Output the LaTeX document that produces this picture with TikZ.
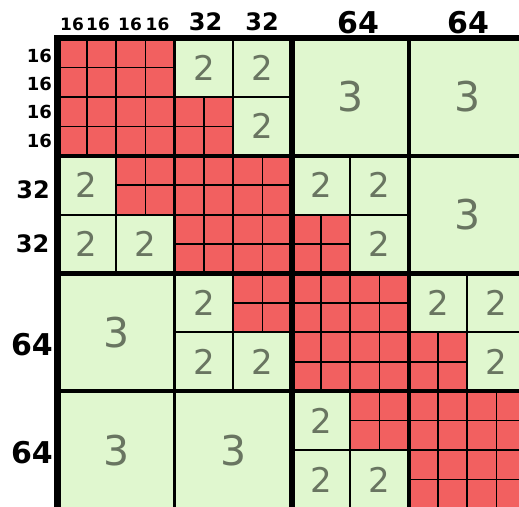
\documentclass[tikz,border=0pt]{standalone}
\usepackage{fontspec}
\setmainfont{DejaVu Sans}
\definecolor{cellred}{RGB}{242,96,96}
\definecolor{cellgreen}{RGB}{224,247,207}
\definecolor{numgray}{RGB}{105,117,97}
\begin{document}
\begin{tikzpicture}[x=1pt,y=-1pt,
  lab/.style={text=black, inner sep=0pt, anchor=base},
  rlab/.style={text=black, inner sep=0pt, anchor=base east},
  small/.style={font=\fontsize{17}{20}\selectfont\bfseries},
  rsmall/.style={font=\fontsize{18}{21}\selectfont\bfseries},
  medium/.style={font=\fontsize{24}{28}\selectfont\bfseries},
  large/.style={font=\fontsize{30}{36}\selectfont\bfseries},
  numtwo/.style={text=numgray, inner sep=0pt, font=\fontsize{34}{40}\selectfont},
  numthree/.style={text=numgray, inner sep=0pt, font=\fontsize{41}{48}\selectfont},
  lsixteen/.style={draw=black, line width=1.5pt},
  lthirtytwo/.style={draw=black, line width=2.1pt},
  lsixtyfour/.style={draw=black, line width=3.6pt},
  lonetwoeight/.style={draw=black, line width=5.8pt},
  louter/.style={draw=black, line width=6.5pt, line join=miter}]
\useasboundingbox (0,0) rectangle (519,506);
\begin{scope}
\clip (0,0) rectangle (519,506);
\begin{scope}[shift={(57.5pt,-38pt)}, x=1.83pt, y=-1.84pt]
  % 64-sized red blocks
  \foreach \c/\r in {0/0,64/64,128/128,192/192} {
    \fill[cellred] (\c,\r) rectangle ++(64,64);
    \foreach \k in {16,48} {
      \draw[lsixteen] ({\c+\k},\r) -- ++(0,64);
      \draw[lsixteen] (\c,{\r+\k}) -- ++(64,0);
    }
  }
  % 32-sized red blocks
  \foreach \c/\r in {64/32,32/64,128/96,96/128,192/160,160/192} {
    \fill[cellred] (\c,\r) rectangle ++(32,32);
    \draw[lsixteen] ({\c+16},\r) -- ++(0,32);
    \draw[lsixteen] (\c,{\r+16}) -- ++(32,0);
  }
  % green blocks labelled 2
  \foreach \c/\r in {64/0,96/0,96/32,0/64,0/96,32/96,128/64,160/64,160/96,
                     64/128,64/160,96/160,192/128,224/128,224/160,128/192,128/224,160/224} {
    \fill[cellgreen] (\c,\r) rectangle ++(32,32);
    \node[numtwo] (two-\c-\r) at ({\c+16},{\r+16}) {2};
  }
  % green blocks labelled 3
  \foreach \c/\r in {128/0,192/0,192/64,0/128,0/192,64/192} {
    \fill[cellgreen] (\c,\r) rectangle ++(64,64);
    \node[numthree] (three-\c-\r) at ({\c+32},{\r+32}) {3};
  }
  % 32-level lines
  \foreach \c/\r in {0/0,64/64,128/128,192/192,64/0,0/64,128/64,64/128,192/128,128/192} {
    \draw[lthirtytwo] ({\c+32},\r) -- ++(0,64);
    \draw[lthirtytwo] (\c,{\r+32}) -- ++(64,0);
  }
  % 64-level lines
  \draw[lsixtyfour] (64,0) -- (64,256);
  \draw[lsixtyfour] (192,0) -- (192,256);
  \draw[lsixtyfour] (0,64) -- (256,64);
  \draw[lsixtyfour] (0,192) -- (256,192);
  % 128-level lines
  \draw[lonetwoeight] (128,0) -- (128,256);
  \draw[lonetwoeight] (0,128) -- (256,128);
  % outer border
  \draw[louter] (0,260) -- (0,0) -- (260,0);
\end{scope}
\end{scope}
% column labels
\node[lab, small] (ca) at (72,30.7) {16};
\node[lab, small] (cb) at (98,30.7) {16};
\node[lab, small] (cc) at (130,30.7) {16};
\node[lab, small] (cd) at (157.5,30.7) {16};
\node[lab, medium] (ce) at (205.5,30.7) {32};
\node[lab, medium] (cf) at (262,30.7) {32};
\node[lab, large] (cg) at (358,33.3) {64};
\node[lab, large] (ch) at (468,33.3) {64};
% row labels
\node[rlab, rsmall] (ra) at (52,62) {16};
\node[rlab, rsmall] (rb) at (52,90) {16};
\node[rlab, rsmall] (rc) at (52,118.3) {16};
\node[rlab, rsmall] (rd) at (52,147.7) {16};
\node[rlab, medium] (re) at (50,198.3) {32};
\node[rlab, medium] (rf) at (49.5,252.7) {32};
\node[rlab, large] (rg) at (53,355) {64};
\node[rlab, large] (rh) at (53,463.3) {64};
\end{tikzpicture}
\end{document}
